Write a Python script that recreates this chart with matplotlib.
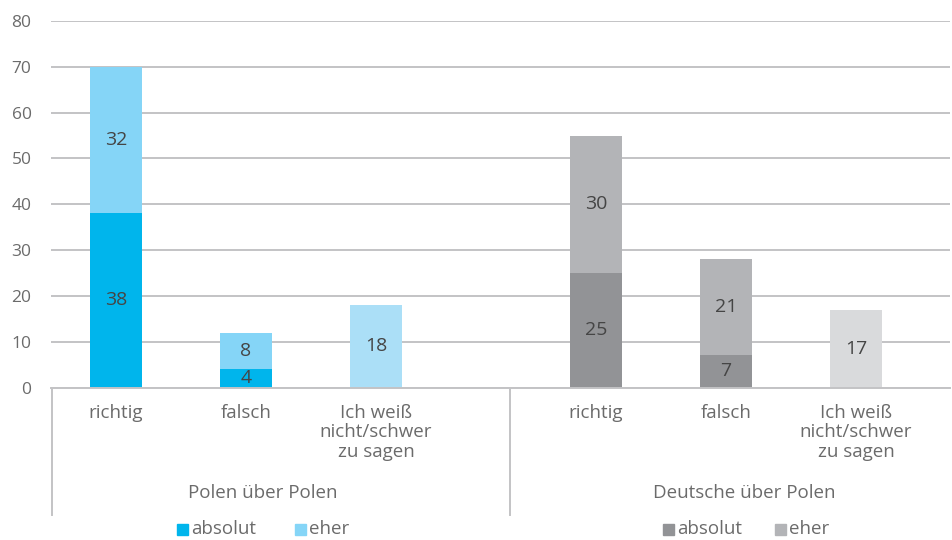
import matplotlib.pyplot as plt
import matplotlib.transforms as mtrans
from matplotlib.patches import Rectangle
from matplotlib.lines import Line2D

groups = ["Polen über Polen", "Deutsche über Polen"]
categories = ["richtig", "falsch", "Ich weiß\nnicht/schwer\nzu sagen"]
absolut = [[38, 4, 0], [25, 7, 0]]
eher = [[32, 8, 18], [30, 21, 17]]
series_names = ["absolut", "eher"]

colors = [
    {"absolut": "#00b5ec", "eher": "#85d5f7", "dk": "#abdff7"},
    {"absolut": "#929396", "eher": "#b3b4b7", "dk": "#d9dadc"},
]

plt.rcParams["font.family"] = ["Open Sans", "DejaVu Sans"]

fig = plt.figure(figsize=(9.52, 5.4), dpi=100)
W, H = 952, 540
x0, x1 = 51, 950
y_top, y_zero = 21, 387.5
ax = fig.add_axes([x0 / W, 1 - y_zero / H, (x1 - x0) / W, (y_zero - y_top) / H])
ax.set_xlim(x0, x1)
ax.set_ylim(0, 80)

# layout in pixel-like x units
group_start = [51, 531]
slot = 130
bar_w = 52
divider = 510

ax.set_yticks(range(0, 81, 10))
ax.tick_params(axis="y", length=0, labelsize=12.5, labelcolor="#6b6b6b", pad=14)
ax.tick_params(axis="x", length=0)
ax.set_xticks([])
ax.grid(axis="y", color="#c3c3c5", linewidth=1.4)
ax.set_axisbelow(True)
for s in ["left", "right", "top"]:
    ax.spines[s].set_visible(False)
ax.spines["bottom"].set_color("#c3c3c5")
ax.spines["bottom"].set_linewidth(1.4)

val_color = "#454545"
for g in range(len(groups)):
    for j, cat in enumerate(categories):
        xc = group_start[g] + slot / 2 + slot * j
        a = absolut[g][j]
        e = eher[g][j]
        ecol = colors[g]["dk"] if a == 0 else colors[g]["eher"]
        if a:
            ax.bar(xc, a, width=bar_w, color=colors[g]["absolut"], zorder=2)
            ax.text(xc, a / 2, str(a), ha="center", va="center", fontsize=14,
                    color=val_color, zorder=3)
        ax.bar(xc, e, width=bar_w, bottom=a, color=ecol, zorder=2)
        ax.text(xc, a + e / 2, str(e), ha="center", va="center", fontsize=14,
                color=val_color, zorder=3)
        ax.text(xc, -3.6, cat, ha="center", va="top", fontsize=13.5,
                color="#6b6b6b", linespacing=1.1)

# group labels and separators
group_centers = [263, 744]
for g, name in enumerate(groups):
    fig.text(group_centers[g] / W, 1 - 493 / H, name, ha="center", va="center",
             fontsize=13.5, color="#6b6b6b")
for xv in [x0 + 0.5, divider]:
    fig.add_artist(Line2D([xv / W, xv / W], [1 - y_zero / H, 1 - 515 / H],
                          color="#c3c3c5", linewidth=1.4))

# legends
leg_pos = [(177, 295), (663, 775)]
for g in range(len(groups)):
    for k, name in enumerate(series_names):
        sx = leg_pos[g][k]
        fig.add_artist(Rectangle((sx / W, 1 - 535 / H), 11 / W, 11 / H,
                                 transform=fig.transFigure,
                                 color=colors[g][name]))
        fig.text((sx + 14) / W, 1 - 529 / H, name, ha="left", va="center",
                 fontsize=13.5, color="#6b6b6b")

plt.savefig("out.png", dpi=100)
